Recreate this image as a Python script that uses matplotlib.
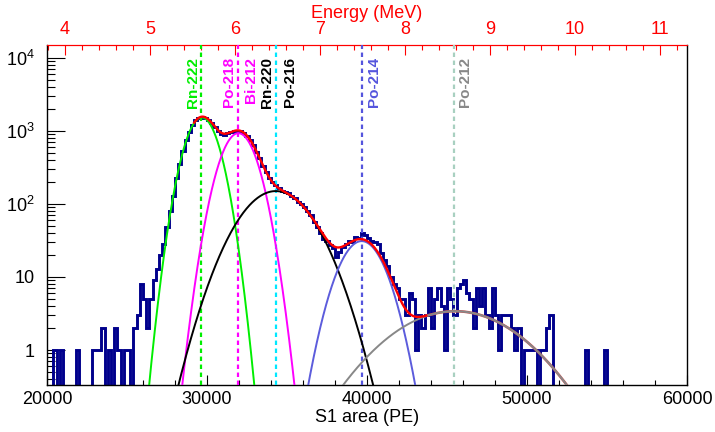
import numpy as np
import matplotlib
matplotlib.use("Agg")
import matplotlib.pyplot as plt
from matplotlib.ticker import MultipleLocator, FixedLocator, LogLocator, NullFormatter

plt.rcParams['font.family'] = ['Liberation Sans', 'DejaVu Sans']
plt.rcParams['mathtext.fontset'] = 'custom'
plt.rcParams['mathtext.rm'] = 'Liberation Sans'

# S1 area histogram: 200 PE bins from 20000 to 60000
bin_lo, bin_hi, bin_width = 20000, 60000, 200
counts = [
    0, 0, 1, 0, 1, 0, 0, 0, 0, 1,
    0, 0, 0, 0, 1, 1, 1, 2, 0, 1,
    0, 2, 1, 0, 1, 1, 0, 2, 3, 8,
    5, 2, 5, 9, 13, 20, 28, 48, 80, 130,
    226, 350, 530, 740, 960, 1200, 1390, 1510, 1570, 1520,
    1420, 1280, 1130, 1010, 900, 890, 935, 975, 1005, 1010,
    990, 950, 860, 750, 640, 520, 420, 335, 270, 230,
    200, 180, 165, 152, 147, 140, 130, 120, 108, 99,
    90, 80, 70, 56, 48, 40, 33, 31, 27, 25,
    19, 22, 26, 28, 31, 30, 35, 34, 40, 38,
    34, 31, 30, 28, 21, 17, 14, 10, 8, 7,
    5, 5, 3, 6, 5, 1, 3, 2, 3, 7,
    2, 5, 7, 4, 1, 7, 5, 3, 7, 8,
    9, 6, 5, 2, 7, 4, 7, 3, 2, 7,
    3, 1, 3, 3, 3, 2, 1, 2, 0, 1,
    1, 1, 1, 0, 1, 1, 2, 3, 0, 0,
    0, 0, 0, 0, 0, 0, 0, 0, 1, 0,
    0, 0, 0, 0, 1, 0, 0, 0, 0, 0,
    0, 0, 0, 0, 0, 0, 0, 0, 0, 0,
    0, 0, 0, 0, 0, 0, 0, 0, 0, 0,
]

# gaussian fit components: amplitude, mean, sigma and drawn range
fit_amp = [1530, 930, 150, 31, 3.4]
fit_mean = [29670, 31960, 34300, 39670, 45500]
fit_sigma = [800, 880, 1740, 1110, 3240]
fit_lo = [26000, 28000, 27800, 36000, 38000]
fit_hi = [33200, 36200, 41000, 43400, 52700]
fit_colors = ['#00ee00', '#ff00ff', 'black', '#5c5cdc', '#888888']
total_lo, total_split, total_hi = 29200, 43700, 52700

# peak markers
line_pos = [29625, 31940, 34310, 39690, 45440]
line_colors = ['#00ee00', '#ff00ff', '#00e8ff', '#5555dd', '#a8d0c0']
# label text, marker index, side, x offset (pt), colour
peak_labels = [
    ('Rn-222', 0, 'right', -1.0, '#00ee00'),
    ('Po-218', 1, 'right', -1.5, '#ff00ff'),
    ('Bi-212', 1, 'left', 4.3, '#ff00ff'),
    ('Rn-220', 2, 'right', -1.5, 'black'),
    ('Po-216', 2, 'left', 5.0, 'black'),
    ('Po-214', 3, 'left', 3.6, '#5555dd'),
    ('Po-212', 4, 'left', 3.0, '#888888'),
]

# energy scale
energy_ticks = [4, 5, 6, 7, 8, 9, 10, 11]
pe_per_mev = 5312.5
pe_at_4mev = 21125


def pe_to_mev(pe):
    return 4 + (np.asarray(pe) - pe_at_4mev) / pe_per_mev


def mev_to_pe(e):
    return pe_at_4mev + (np.asarray(e) - 4) * pe_per_mev


def gauss(x, a, m, s):
    return a * np.exp(-0.5 * ((x - m) / s) ** 2)


def total(x):
    return sum(gauss(x, a, m, s) for a, m, s in zip(fit_amp, fit_mean, fit_sigma))


fig = plt.figure(figsize=(7.15, 4.32), dpi=100)
ax = fig.add_axes([47 / 715, 1 - 385 / 432, 640 / 715, 340 / 432])

edges = np.arange(bin_lo, bin_hi + bin_width, bin_width)
ax.stairs(counts, edges, color='#00008c', lw=2.1, zorder=2)

for x, c in zip(line_pos, line_colors):
    ax.axvline(x, color=c, lw=1.6, ls=(0, (2.0, 1.6)), zorder=3)

for a, m, s, lo, hi, c in zip(fit_amp, fit_mean, fit_sigma, fit_lo, fit_hi, fit_colors):
    xs = np.linspace(lo, hi, 400)
    ax.plot(xs, gauss(xs, a, m, s), color=c, lw=1.4, zorder=5)

xs = np.linspace(total_lo, total_split, 400)
ax.plot(xs, total(xs), color='red', lw=1.7, zorder=6)
xs = np.linspace(total_split, total_hi, 300)
ax.plot(xs, total(xs), color='#d05050', lw=1.9, zorder=4)

for text, i, side, dx, c in peak_labels:
    ax.annotate(text, xy=(line_pos[i], 1), xycoords=('data', 'axes fraction'),
                xytext=(dx, -8.6), textcoords='offset points', rotation=90,
                ha=side, va='top', color=c, fontsize=11, fontweight='bold')

ax.set_xlim(bin_lo, bin_hi)
ax.set_yscale('log')
ax.set_ylim(0.332, 15000)

ax.xaxis.set_major_locator(MultipleLocator(10000))
ax.xaxis.set_minor_locator(MultipleLocator(2000))
ax.yaxis.set_major_locator(FixedLocator([1, 10, 100, 1000, 10000]))
ax.set_yticklabels(['1', '10', r'$\mathregular{10^{2}}$', r'$\mathregular{10^{3}}$', r'$\mathregular{10^{4}}$'])
ax.yaxis.set_minor_locator(LogLocator(base=10, subs=np.arange(2, 10)))
ax.yaxis.set_minor_formatter(NullFormatter())

ax.tick_params(axis='x', which='both', direction='in', top=False, labelsize=13, pad=4, width=0.8)
ax.tick_params(axis='x', which='major', length=7)
ax.tick_params(axis='x', which='minor', length=3.5)
ax.tick_params(axis='y', which='both', direction='in', right=False, labelsize=13, pad=9, width=0.8)
ax.tick_params(axis='y', which='major', length=13)
ax.tick_params(axis='y', which='minor', length=6)
ax.set_xlabel('S1 area (PE)', fontsize=13, labelpad=1)
for side in ['left', 'bottom', 'right']:
    ax.spines[side].set_linewidth(1.0)
ax.spines['top'].set_color('red')

secax = ax.secondary_xaxis('top', functions=(pe_to_mev, mev_to_pe))
secax.xaxis.set_major_locator(FixedLocator(energy_ticks))
secax.xaxis.set_minor_locator(MultipleLocator(0.2))
secax.tick_params(which='both', direction='in', colors='red', labelsize=13, pad=5, width=0.8)
secax.tick_params(which='major', length=7)
secax.tick_params(which='minor', length=3.5)
secax.spines['top'].set_color('red')
secax.set_xlabel('Energy (MeV)', color='red', fontsize=13, labelpad=2)

fig.savefig('out.png', dpi=100)
